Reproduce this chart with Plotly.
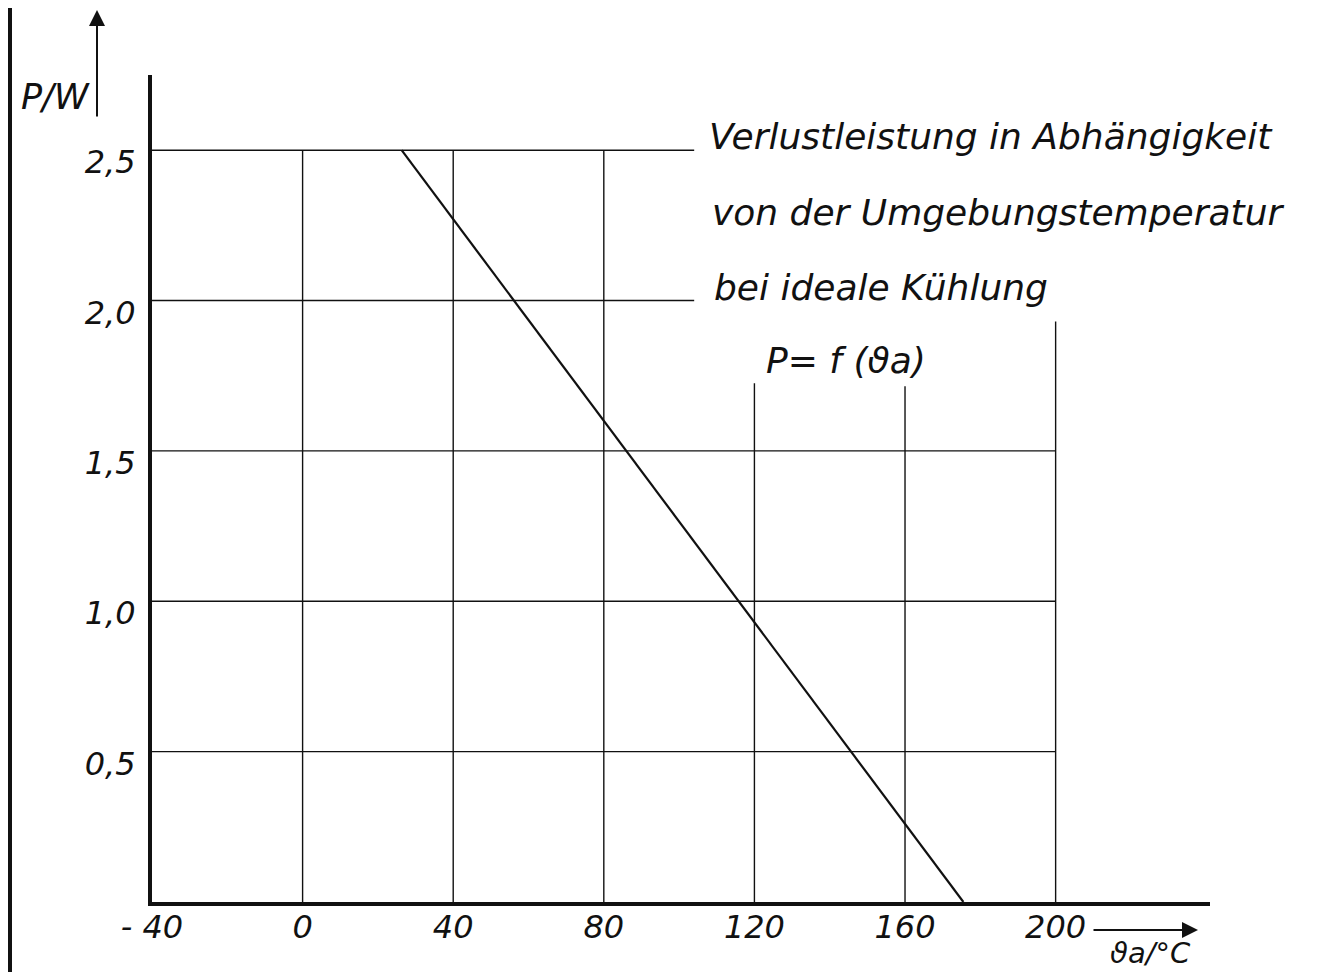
import plotly.graph_objects as go

# ---- data ----
x_ticks = [-40, 0, 40, 80, 120, 160, 200]
x_tick_text = ["- 40", "0", "40", "80", "120", "160", "200"]
y_ticks = [0.5, 1.0, 1.5, 2.0, 2.5]
y_tick_text = ["0,5", "1,0", "1,5", "2,0", "2,5"]

# derating curve P = f(theta_a)
curve_t = [26.3, 175.5]
curve_p = [2.5, 0.0]

# horizontal grid lines: level and right end (temperature)
hgrid_levels = [0.5, 1.0, 1.5, 2.0, 2.5]
hgrid_right = [200, 200, 200, 104, 104]
# vertical grid lines: position and top (power)
vgrid_pos = [0, 40, 80, 120, 160, 200]
vgrid_top = [2.5, 2.5, 2.5, 1.725, 1.715, 1.93]

title_lines = ["Verlustleistung in Abhängigkeit",
               "von der Umgebungstemperatur",
               "bei ideale Kühlung"]
formula = "P= f (ϑa)"

FONT = "DejaVu Sans"
INK = "#111111"

fig = go.Figure()

# grid
for lvl, right in zip(hgrid_levels, hgrid_right):
    fig.add_trace(go.Scatter(x=[-40, right], y=[lvl, lvl], mode="lines",
                             line=dict(color=INK, width=1.4),
                             hoverinfo="skip", showlegend=False))
for pos, top in zip(vgrid_pos, vgrid_top):
    fig.add_trace(go.Scatter(x=[pos, pos], y=[0, top], mode="lines",
                             line=dict(color=INK, width=1.4),
                             hoverinfo="skip", showlegend=False))

# curve
fig.add_trace(go.Scatter(x=curve_t, y=curve_p, mode="lines",
                         line=dict(color=INK, width=2.2),
                         showlegend=False, name="P = f(ϑa)"))

# page has an 8px body margin: figure pixel = screen pixel - 8
O = 8
W, H = 1321 - 2 * O, 980 - 2 * O
L, T = 152 - O, 75 - O
R = W - (1210 - O)
B = H - (902 - O)
pw, ph = W - L - R, H - T - B


def px(x):
    return (x - O - L) / pw


def py(y):
    return (H - B - (y - O)) / ph


txt_font = dict(family=FONT, size=36, color=INK, style="italic")
title_y = [136, 212, 287]
title_x = [707, 710, 712]
for t, xx, yy in zip(title_lines, title_x, title_y):
    fig.add_annotation(text=t, x=px(xx), y=py(yy), xref="paper", yref="paper",
                       xanchor="left", yanchor="middle", showarrow=False,
                       font=txt_font)
fig.add_annotation(text=formula, x=px(764), y=py(360), xref="paper", yref="paper",
                   xanchor="left", yanchor="middle", showarrow=False, font=txt_font)

# axis labels
fig.add_annotation(text="P/W", x=px(55), y=py(97), xref="paper", yref="paper",
                   xanchor="center", yanchor="middle", showarrow=False,
                   font=dict(family=FONT, size=35, color=INK, style="italic"))
fig.add_annotation(text="ϑa/°C", x=px(1150), y=py(953), xref="paper", yref="paper",
                   xanchor="center", yanchor="middle", showarrow=False,
                   font=dict(family=FONT, size=29, color=INK, style="italic"))

# arrows (tail offsets in pixels)
fig.add_annotation(x=px(97), y=py(10), ax=0, ay=108, xref="paper", yref="paper",
                   axref="pixel", ayref="pixel", text="", showarrow=True,
                   arrowhead=2, arrowsize=1.6, arrowwidth=2, arrowcolor=INK)
fig.add_annotation(x=px(1198), y=py(930), ax=-106, ay=0, xref="paper", yref="paper",
                   axref="pixel", ayref="pixel", text="", showarrow=True,
                   arrowhead=2, arrowsize=1.6, arrowwidth=2, arrowcolor=INK)

# left border of the sheet
fig.add_shape(type="line", xref="paper", yref="paper", x0=px(10), x1=px(10),
              y0=py(O), y1=py(980 - O), line=dict(color=INK, width=4))

tick_font = dict(family=FONT, size=32, color=INK, style="italic")
fig.update_layout(
    width=W, height=H,
    margin=dict(l=L, r=R, t=T, b=B),
    paper_bgcolor="white", plot_bgcolor="white",
    xaxis=dict(range=[-40, 241], tickvals=x_ticks, ticktext=x_tick_text,
               showgrid=False, zeroline=False, showline=True, linecolor=INK, linewidth=4,
               ticks="", tickfont=tick_font, ticklabelstandoff=-6),
    yaxis=dict(range=[0, 2.75], tickvals=y_ticks, ticktext=y_tick_text,
               showgrid=False, zeroline=False, showline=True, linecolor=INK, linewidth=4,
               ticks="", tickfont=tick_font, ticklabelstandoff=6, ticklabelshift=12),
)

fig.write_html("out.html")
